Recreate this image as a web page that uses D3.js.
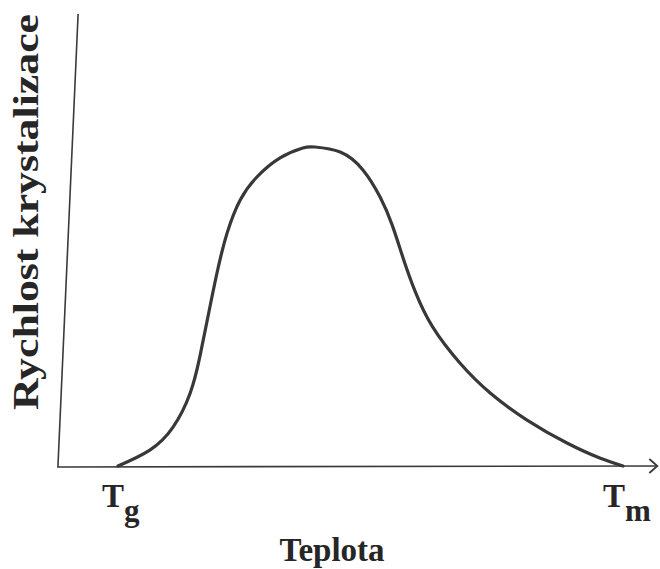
<!DOCTYPE html>
<html>
<head>
<meta charset="utf-8">
<script src="https://cdn.jsdelivr.net/npm/d3@7"></script>
<style>
  html, body { margin: 0; padding: 0; background: #fff; }
  svg text { font-family: "Liberation Serif", "Times New Roman", serif; font-weight: bold; fill: #262626; }
</style>
</head>
<body>
<svg id="chart" width="660" height="569"></svg>
<script>
// relative temperature: 0 = Tg, 100 = Tm
const temps = [0, 6.3, 10.9, 14.3, 16.2, 17.8, 19.6, 21.6, 24.2, 27.5, 32.1, 36.6, 39.0,
    44.0, 48.5, 51.9, 54.3, 56.5, 58.9, 62.3, 67.7, 73.7, 81.0, 88.9, 95.4, 100];
// crystallisation rate, relative to the maximum
const rates = [0, 5.0, 12.2, 22.9, 34.2, 46.7, 60.5, 73.0, 83.4, 90.6, 96.6, 99.7, 100,
    98.4, 92.8, 84.3, 75.5, 65.0, 54.5, 43.6, 32.3, 22.9, 14.4, 7.2, 2.5, 0];
const tickLabels = [{ t: 0, main: 'T', sub: 'g' }, { t: 100, main: 'T', sub: 'm' }];
const xTitle = 'Teplota';
const yTitle = 'Rychlost krystalizace';

const svg = d3.select('#chart');

const x = d3.scaleLinear().domain([0, 100]).range([118, 623]);
const y = d3.scaleLinear().domain([0, 100]).range([466, 147]);

const line = d3.line()
    .x(d => x(d[0]))
    .y(d => y(d[1]))
    .curve(d3.curveNatural);

// axes (the scanned y axis leans slightly to the right)
const axisPath = d3.line().x(d => x(d[0])).y(d => y(d[1]));
svg.append('path')
    .attr('d', axisPath([[-7.9, 141.7], [-11.9, -0.3], [106.6, 0]]))
    .attr('fill', 'none')
    .attr('stroke', '#3a3a3a')
    .attr('stroke-width', 1.6);

// open arrow head on the x axis
const tip = [x(106.8), y(0)];
svg.append('path')
    .attr('d', `M${tip[0] - 8},${tip[1] - 7}L${tip[0]},${tip[1]}L${tip[0] - 8},${tip[1] + 7}`)
    .attr('fill', 'none')
    .attr('stroke', '#3a3a3a')
    .attr('stroke-width', 1.8);

svg.append('path')
    .datum(d3.zip(temps, rates))
    .attr('d', line)
    .attr('fill', 'none')
    .attr('stroke', '#383838')
    .attr('stroke-width', 3.2)
    .attr('stroke-linecap', 'round');

// tick labels Tg, Tm
const ticks = svg.selectAll('g.tick')
    .data(tickLabels)
    .join('g')
    .classed('tick', true)
    .attr('transform', d => `translate(${x(d.t) - (d.t === 0 ? 16 : 20)}, 507)`);

ticks.append('text')
    .attr('font-size', 33)
    .text(d => d.main)
    .append('tspan')
    .attr('dy', 14)
    .attr('font-size', 31)
    .text(d => d.sub);

svg.append('text')
    .attr('x', 332)
    .attr('y', 561)
    .attr('text-anchor', 'middle')
    .attr('font-size', 33)
    .text(xTitle);

svg.append('text')
    .attr('transform', 'translate(38, 212) rotate(-90)')
    .attr('text-anchor', 'middle')
    .attr('font-size', 35)
    .attr('textLength', 396)
    .attr('lengthAdjust', 'spacingAndGlyphs')
    .text(yTitle);
</script>
</body>
</html>
